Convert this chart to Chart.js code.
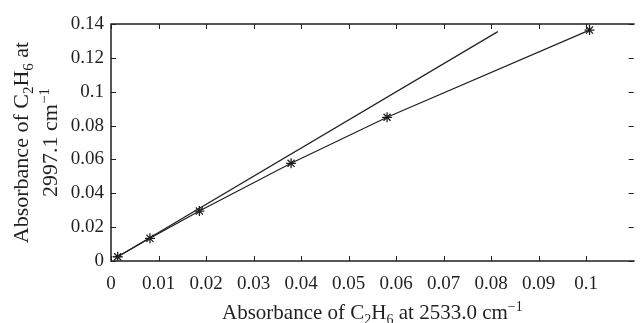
<!DOCTYPE html>
<html>
<head>
<meta charset="utf-8">
<script src="https://cdn.jsdelivr.net/npm/chart.js@4/dist/chart.umd.min.js"></script>
<style>
  html, body { margin: 0; padding: 0; background: #fff; }
  #wrap { width: 640px; height: 323px; position: relative; }
</style>
</head>
<body>
<div id="wrap"><canvas id="chart"></canvas></div>
<script>
// absorbance of C2H6 at 2533.0 cm-1 (x) vs 2997.1 cm-1 (y)
const absLow = [0.0014, 0.0082, 0.0186, 0.0379, 0.0581, 0.1007];
const absHigh = [0.0025, 0.0134, 0.0295, 0.0577, 0.0849, 0.1364];
// straight reference line
const refX = [0.0014, 0.0814];
const refY = [0.0025, 0.1355];

const xTicks = [0, 0.01, 0.02, 0.03, 0.04, 0.05, 0.06, 0.07, 0.08, 0.09, 0.1];
const yTicks = [0, 0.02, 0.04, 0.06, 0.08, 0.1, 0.12, 0.14];

const ink = "#231f20";
const serif = "'Liberation Serif', 'DejaVu Serif', serif";
const fmt = v => String(+v.toFixed(2));

function drawRich(ctx, parts, x, y, size) {
  const big = size + "px " + serif, small = Math.round(size * 0.68) + "px " + serif;
  let w = 0;
  parts.forEach(([t, k]) => {
    ctx.font = k ? small : big;
    w += ctx.measureText(t).width;
  });
  let cx = x - w / 2;
  ctx.textAlign = "left";
  ctx.textBaseline = "alphabetic";
  parts.forEach(([t, k]) => {
    ctx.font = k ? small : big;
    const dy = k === "sub" ? 5 : k === "sup" ? -8 : 0;
    ctx.fillText(t, cx, y + dy);
    cx += ctx.measureText(t).width;
  });
}

const framePlugin = {
  id: "frame",
  afterDraw(chart) {
    const { ctx, chartArea: a, scales: { x, y } } = chart;
    ctx.save();
    ctx.strokeStyle = ink;
    ctx.lineWidth = 1.5;
    ctx.beginPath();
    ctx.moveTo(a.right + 1, a.top);
    ctx.lineTo(a.left, a.top);
    ctx.lineTo(a.left, a.bottom);
    ctx.lineTo(a.right + 1, a.bottom);
    ctx.stroke();

    ctx.lineWidth = 1;
    ctx.beginPath();
    xTicks.forEach(v => {
      const px = Math.round(x.getPixelForValue(v)) + 0.5;
      ctx.moveTo(px, a.bottom); ctx.lineTo(px, a.bottom - 5);
      ctx.moveTo(px, a.top); ctx.lineTo(px, a.top + 5);
    });
    yTicks.forEach(v => {
      const py = Math.round(y.getPixelForValue(v)) + 0.5;
      ctx.moveTo(a.left, py); ctx.lineTo(a.left + 5, py);
      ctx.moveTo(a.right, py); ctx.lineTo(a.right - 5, py);
    });
    ctx.stroke();

    // axis titles
    ctx.fillStyle = ink;
    drawRich(ctx, [["Absorbance of C", ""], ["2", "sub"], ["H", ""], ["6", "sub"],
      [" at 2533.0 cm", ""], ["\u22121", "sup"]], (a.left + a.right) / 2, 319, 21);

    const cy = (a.top + a.bottom) / 2;
    ctx.translate(28, cy);
    ctx.rotate(-Math.PI / 2);
    drawRich(ctx, [["Absorbance of C", ""], ["2", "sub"], ["H", ""], ["6", "sub"], [" at", ""]], 0, 0, 22);
    ctx.translate(0, 29);
    drawRich(ctx, [["2997.1 cm", ""], ["\u22121", "sup"]], 0, 0, 22);
    ctx.restore();
  }
};

new Chart(document.getElementById("chart"), {
  type: "scatter",
  data: {
    datasets: [
      {
        label: "reference",
        data: refX.map((v, i) => ({ x: v, y: refY[i] })),
        showLine: true,
        borderColor: ink,
        borderWidth: 1.2,
        pointRadius: 0
      },
      {
        label: "measured",
        data: absLow.map((v, i) => ({ x: v, y: absHigh[i] })),
        showLine: true,
        borderColor: ink,
        borderWidth: 1.2,
        pointStyle: "star",
        pointRadius: 5,
        pointBorderWidth: 1.3,
        pointBorderColor: ink,
        pointBackgroundColor: ink
      }
    ]
  },
  options: {
    responsive: true,
    maintainAspectRatio: false,
    animation: false,
    layout: { padding: { top: 24, right: 0, left: 0, bottom: 0 } },
    plugins: {
      legend: { display: false },
      tooltip: { enabled: false }
    },
    scales: {
      x: {
        type: "linear",
        min: 0,
        max: 0.11,
        afterBuildTicks: s => { s.ticks = xTicks.map(v => ({ value: v })); },
        afterFit: s => { s.height = 62; },
        grid: { display: false, drawTicks: false },
        border: { display: false },
        ticks: {
          padding: 12,
          color: ink,
          font: { family: serif, size: 19 },
          maxRotation: 0,
          autoSkip: false,
          callback: v => fmt(v)
        }
      },
      y: {
        type: "linear",
        min: 0,
        max: 0.14,
        afterBuildTicks: s => { s.ticks = yTicks.map(v => ({ value: v })); },
        afterFit: s => { s.width = 111; },
        grid: { display: false, drawTicks: false },
        border: { display: false },
        ticks: {
          padding: 7,
          color: ink,
          font: { family: serif, size: 19 },
          autoSkip: false,
          callback: v => fmt(v)
        }
      }
    }
  },
  plugins: [framePlugin]
});
</script>
</body>
</html>
